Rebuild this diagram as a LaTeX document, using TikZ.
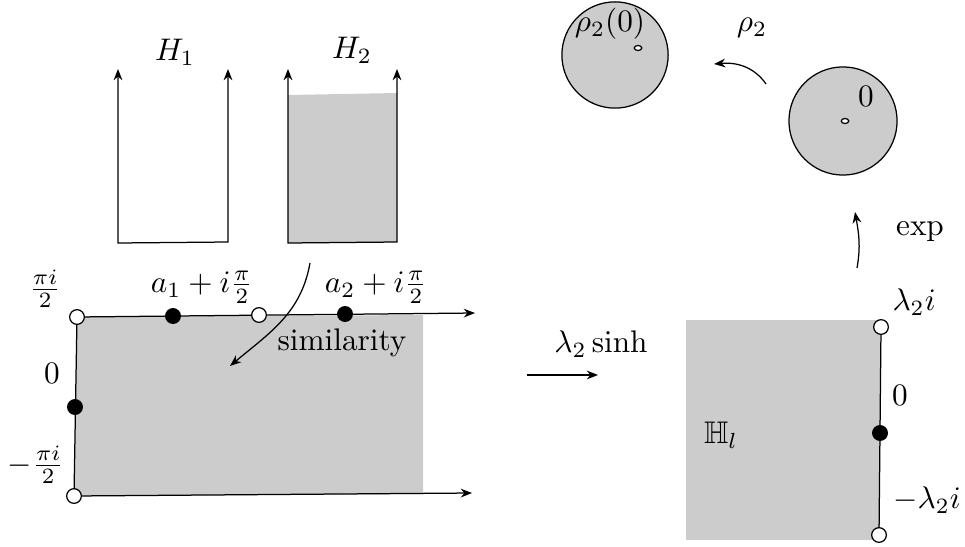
\documentclass[tikz,border=0pt]{standalone}
\usepackage{amssymb}
\usetikzlibrary{arrows.meta}
\begin{document}
\begin{tikzpicture}[x=0.32pt,y=-0.32pt,>={Stealth[length=3.6pt,width=2.8pt]}]
\tikzset{plein/.style={circle,draw,fill=black,inner sep=0pt,minimum size=4.7pt},%point noir
vide/.style={circle,draw,fill=white,inner sep=0pt,minimum size=4.7pt},%point blanc
etiq/.style={inner sep=0.5pt}}%textes
\useasboundingbox (0,0) rectangle (965,546);
\colorlet{gris}{black!20}
\newcommand{\Bande}{(77,317) -- (423,315) -- (423,494) -- (74,496) -- cycle}%bande
\newcommand{\Demi}{(288,95) -- (397,93) -- (397,242) -- (288,243) -- cycle}%H2 rempli
% H1 et H2
\coordinate (h1tl) at (118,69); \coordinate (h1bl) at (118,243);
\coordinate (h1br) at (228,242); \coordinate (h1tr) at (228,69);
\coordinate (h2tl) at (288,69); \coordinate (h2bl) at (288,243);
\coordinate (h2br) at (397,242); \coordinate (h2tr) at (397,69);
\fill[gris]\Demi;
\draw[<->] (h1tl) -- (h1bl) -- (h1br) -- (h1tr);
\draw[<->] (h2tl) -- (h2bl) -- (h2br) -- (h2tr);
\node[etiq] (H1) at (175,52) {$H_1$};
\node[etiq] (H2) at (352,50) {$H_2$};
% bande
\fill[gris]\Bande;
\coordinate (tl) at (77,317); \coordinate (bl) at (74,496);
\coordinate (tr) at (475,313); \coordinate (br) at (472,493);
\draw[->] (tl) -- (tr);
\draw[->] (bl) -- (br);
\draw (tl) -- (bl);
\node[vide] (ptl) at (tl) {};
\node[vide] (pbl) at (bl) {};
\node[plein] (pa1) at (173,316) {};
\node[vide] (pw) at (259,315) {};
\node[plein] (pa2) at (345,314) {};
\node[plein] (pz) at (75,407) {};
\node[etiq] (lhaut) at (45,289) {$\frac{\pi i}{2}$};
\node[etiq] (lzero) at (52,373) {$0$};
\node[etiq] (lbas) at (36,465) {$-\frac{\pi i}{2}$};
\node[etiq] (la1) at (202,287) {$a_1+i\frac{\pi}{2}$};
\node[etiq] (la2) at (376,287) {$a_2+i\frac{\pi}{2}$};
\node[etiq] (sim) at (342,343) {similarity};
\coordinate (s0) at (310,263); \coordinate (s1) at (230,366);
\draw[->] (s0) to[out=-100,in=40] (s1);
% sinh
\coordinate (f0) at (527,375); \coordinate (f1) at (598,375);
\draw[->] (f0) -- (f1);
\node[etiq] (lsinh) at (601,344) {$\lambda_2\sinh$};
% demi-plan gauche
\fill[gris] (686,320) rectangle (880,540);
\coordinate (rt) at (881,327); \coordinate (rb) at (879,535);
\draw (rt) -- (rb);
\node[vide] (prt) at (rt) {};
\node[vide] (prb) at (rb) {};
\node[plein] (prz) at (880,433) {};
\node[etiq] (Hl) at (721,435) {$\mathbb{H}_l$};
\node[etiq] (llh) at (914,302) {$\lambda_2 i$};
\node[etiq] (lrz) at (900,395) {$0$};
\node[etiq] (llb) at (927,500) {$-\lambda_2 i$};
% exp
\coordinate (e0) at (857,268); \coordinate (e1) at (855,212);
\draw[->] (e0) to[out=80,in=-80] (e1);
\node[etiq] (lexp) at (920,232) {$\exp$};
% disques
\draw[fill=gris] (843,121) circle (17.3pt);%disque unite
\draw[fill=white] (845,121) ellipse (1.2pt and 0.8pt);
\node[etiq] (ldz) at (866,96) {$0$};
\draw[fill=gris] (615,55) circle (17pt);%image par rho2
\draw[fill=white] (638,48) ellipse (1.2pt and 0.8pt);
\node[etiq] (lrho0) at (610,24) {$\rho_2(0)$};
\coordinate (r0) at (766,84); \coordinate (r1) at (714,64);
\draw[->] (r0) to[out=125,in=5] (r1);
\node[etiq] (lrho) at (752,28) {$\rho_2$};
\end{tikzpicture}
\end{document}
